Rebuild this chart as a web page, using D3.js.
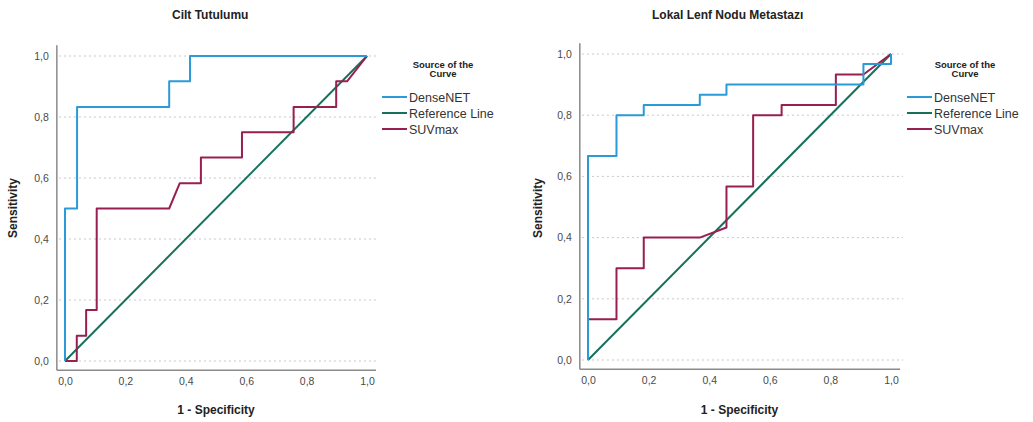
<!DOCTYPE html>
<html>
<head>
<meta charset="utf-8">
<script src="https://d3js.org/d3.v7.min.js"></script>
<style>
  body { margin: 0; background: #fff; }
  text { font-family: "Liberation Sans", Arial, sans-serif; }
</style>
</head>
<body>
<script>
// ROC points: [1 - specificity, sensitivity]
var ciltDense = [[0,0],[0,0.5],[0.04,0.5],[0.04,0.833],[0.345,0.833],[0.345,0.917],[0.414,0.917],[0.414,1],[1,1]];
var ciltSuv = [[0,0],[0.039,0],[0.039,0.083],[0.07,0.083],[0.07,0.167],[0.105,0.167],[0.105,0.5],[0.345,0.5],
  [0.38,0.583],[0.45,0.583],[0.45,0.667],[0.586,0.667],[0.586,0.75],[0.757,0.75],[0.757,0.833],[0.898,0.833],
  [0.898,0.917],[0.934,0.917],[1,1]];
var lenfDense = [[0,0],[0,0.667],[0.094,0.667],[0.094,0.8],[0.184,0.8],[0.184,0.833],[0.369,0.833],[0.369,0.867],
  [0.457,0.867],[0.457,0.9],[0.909,0.9],[0.909,0.967],[1,0.967],[1,1]];
var lenfSuv = [[0,0],[0,0.133],[0.094,0.133],[0.094,0.3],[0.184,0.3],[0.184,0.4],[0.369,0.4],[0.457,0.433],
  [0.457,0.567],[0.545,0.567],[0.545,0.8],[0.639,0.8],[0.639,0.833],[0.818,0.833],[0.818,0.933],[0.909,0.933],[1,1]];
var refLine = [[0,0],[1,1]];

var ticks = [0, 0.2, 0.4, 0.6, 0.8, 1.0];
var titles = ["Cilt Tutulumu", "Lokal Lenf Nodu Metastazı"];
var seriesNames = ["DenseNET", "Reference Line", "SUVmax"];
var seriesColors = ["#2a9ad8", "#16705c", "#981f4f"];

var W = 1033, H = 422;
var svg = d3.select("body").append("svg").attr("width", W).attr("height", H);

var panels = [
  {title: titles[0], x0: 65, x1: 367, y0: 361, y1: 56, series: [ciltDense, refLine, ciltSuv],
   titleX: 172, legX: 382, legTitleX: 443, ylabX: 13},
  {title: titles[1], x0: 588, x1: 891, y0: 360, y1: 54, series: [lenfDense, refLine, lenfSuv],
   titleX: 652, legX: 907, legTitleX: 965, ylabX: 538}
];

function fmt(v) { return d3.format(".1f")(v).replace(".", ","); }

panels.forEach(function (p) {
  var x = d3.scaleLinear().domain([0, 1]).range([p.x0, p.x1]);
  var y = d3.scaleLinear().domain([0, 1]).range([p.y0, p.y1]);
  var g = svg.append("g");

  // dotted grid
  g.selectAll(".grid").data(ticks).enter().append("line")
    .attr("x1", x(-0.02)).attr("x2", x(1.04))
    .attr("y1", function (d) { return y(d); }).attr("y2", function (d) { return y(d); })
    .attr("stroke", "#c8c8c8").attr("stroke-width", 1).attr("stroke-dasharray", "2,3");

  // axis frame
  g.append("line").attr("x1", x(-0.027)).attr("x2", x(-0.027)).attr("y1", y(1.035)).attr("y2", y(-0.03))
    .attr("stroke", "#8a8a8a").attr("stroke-width", 1.5);
  g.append("line").attr("x1", x(-0.027)).attr("x2", x(1.03)).attr("y1", y(-0.03)).attr("y2", y(-0.03))
    .attr("stroke", "#8a8a8a").attr("stroke-width", 1.5);

  // tick labels via axes
  var ax = g.append("g").attr("transform", "translate(0," + (y(-0.03) + 4) + ")")
    .call(d3.axisBottom(x).tickValues(ticks).tickFormat(fmt).tickSize(0));
  ax.select(".domain").remove();
  ax.selectAll("text").attr("fill", "#4a4a4a").style("font-size", "10.5px");

  var ay = g.append("g").attr("transform", "translate(" + (x(-0.027) - 5) + ",0)")
    .call(d3.axisLeft(y).tickValues(ticks).tickFormat(fmt).tickSize(0));
  ay.select(".domain").remove();
  ay.selectAll("text").attr("fill", "#4a4a4a").style("font-size", "10.5px");

  // curves
  var line = d3.line().x(function (d) { return x(d[0]); }).y(function (d) { return y(d[1]); });
  [1, 2, 0].forEach(function (i) {
    g.append("path").datum(p.series[i]).attr("d", line)
      .attr("fill", "none").attr("stroke", seriesColors[i]).attr("stroke-width", 2)
      .attr("stroke-linejoin", "round");
  });

  // titles and labels
  g.append("text").attr("x", p.titleX).attr("y", 19).text(p.title)
    .style("font-size", "12px").style("font-weight", "bold").attr("fill", "#222");
  g.append("text").attr("x", (p.x0 + p.x1) / 2).attr("y", 414).attr("text-anchor", "middle")
    .text("1 - Specificity").style("font-size", "12px").style("font-weight", "bold").attr("fill", "#222");
  g.append("text").attr("transform", "translate(" + (p.ylabX + 4) + "," + 208 + ") rotate(-90)")
    .attr("text-anchor", "middle").text("Sensitivity")
    .style("font-size", "12px").style("font-weight", "bold").attr("fill", "#222");

  // legend
  var lg = g.append("g");
  lg.append("text").attr("x", p.legTitleX).attr("y", 68).attr("text-anchor", "middle")
    .text("Source of the").style("font-size", "9.5px").style("font-weight", "bold").attr("fill", "#222");
  lg.append("text").attr("x", p.legTitleX).attr("y", 77).attr("text-anchor", "middle")
    .text("Curve").style("font-size", "9.5px").style("font-weight", "bold").attr("fill", "#222");
  seriesNames.forEach(function (n, i) {
    var ly = 97 + i * 16;
    lg.append("line").attr("x1", p.legX).attr("x2", p.legX + 25).attr("y1", ly).attr("y2", ly)
      .attr("stroke", seriesColors[i]).attr("stroke-width", 2);
    lg.append("text").attr("x", p.legX + 27).attr("y", ly + 4.5).text(n)
      .style("font-size", "12.5px").attr("fill", "#333");
  });
});
</script>
</body>
</html>
